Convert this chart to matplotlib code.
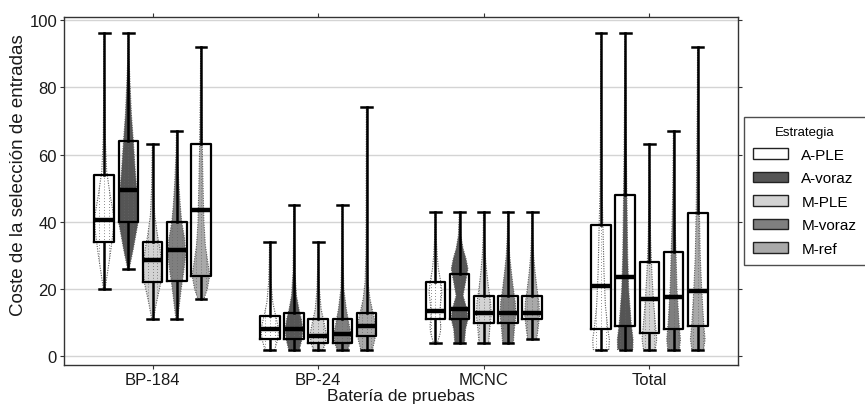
import numpy as np
import matplotlib
matplotlib.use("Agg")
import matplotlib.pyplot as plt
from matplotlib.patches import Patch

plt.rcParams['font.family'] = ['Liberation Sans', 'DejaVu Sans']

groups = ["BP-184", "BP-24", "MCNC", "Total"]
strategies = ["A-PLE", "A-voraz", "M-PLE", "M-voraz", "M-ref"]
colors = ["#ffffff", "#555555", "#d3d3d3", "#7f7f7f", "#a9a9a9"]

# Five-number summaries: one row per test battery, one column per strategy
cost_min = [[20, 26, 11, 11, 17],
            [2, 2, 2, 2, 2],
            [4, 4, 4, 4, 5],
            [2, 2, 2, 2, 2]]
cost_q1 = [[34, 40, 22, 22.5, 24],
           [5, 5, 4, 4, 6],
           [11, 11, 10, 10, 11],
           [8, 9, 7, 8, 9]]
cost_med = [[40.5, 49.5, 28.5, 31.5, 43.5],
            [8, 8, 6, 6.5, 9],
            [13.5, 14, 13, 13, 13],
            [21, 23.5, 17, 17.5, 19.5]]
cost_q3 = [[54, 64, 34, 40, 63],
           [12, 13, 11, 11, 13],
           [22, 24.5, 18, 18, 18],
           [39, 48, 28, 31, 42.5]]
cost_max = [[96, 96, 63, 67, 92],
            [34, 45, 34, 45, 74],
            [43, 43, 43, 43, 43],
            [96, 96, 63, 67, 92]]

# Violin outlines: cost levels and relative half-widths (1 = box half-width)
bp184_levels = [[20, 30, 38, 42, 48, 55, 65, 80, 96],
                [26, 32, 40, 46, 55, 64, 72, 80, 88, 96],
                [11, 16, 22, 27, 32, 36, 42, 50, 63],
                [11, 15, 20, 25, 30, 35, 40, 45, 52, 60, 67],
                [17, 20, 24, 28, 33, 40, 50, 60, 70, 80, 92]]
bp184_widths = [[0.08, 0.6, 0.95, 0.95, 0.6, 0.25, 0.1, 0.05, 0.03],
                [0.08, 0.5, 1.0, 0.95, 0.7, 0.5, 0.3, 0.18, 0.07, 0.03],
                [0.08, 0.4, 0.85, 0.95, 0.75, 0.5, 0.22, 0.1, 0.03],
                [0.08, 0.25, 0.45, 0.7, 0.9, 0.8, 0.5, 0.35, 0.2, 0.08, 0.03],
                [0.3, 0.65, 0.9, 0.7, 0.45, 0.3, 0.22, 0.15, 0.1, 0.06, 0.03]]

bp24_levels = [[2, 5, 8, 12, 16, 22, 28, 34],
               [2, 5, 8, 11, 14, 18, 25, 35, 45],
               [2, 4, 7, 10, 14, 20, 27, 34],
               [2, 4, 7, 10, 14, 20, 30, 45],
               [2, 5, 9, 13, 17, 22, 30, 50, 74]]
bp24_widths = [[0.5, 0.8, 0.9, 0.6, 0.3, 0.12, 0.06, 0.03],
               [0.55, 0.8, 0.9, 0.75, 0.5, 0.25, 0.1, 0.05, 0.03],
               [0.5, 0.75, 0.8, 0.6, 0.3, 0.12, 0.05, 0.03],
               [0.55, 0.8, 0.85, 0.65, 0.4, 0.15, 0.06, 0.03],
               [0.6, 0.85, 0.95, 0.65, 0.35, 0.15, 0.07, 0.04, 0.02]]

mcnc_levels = [[4, 7, 9, 12, 15, 19, 22, 26, 30, 35, 43],
               [4, 8, 11, 14, 18, 22, 26, 29, 32, 36, 43],
               [4, 8, 12, 16, 20, 25, 30, 36, 43],
               [4, 8, 12, 16, 20, 25, 30, 36, 43],
               [5, 8, 12, 16, 20, 25, 30, 36, 43]]
mcnc_widths = [[0.2, 0.5, 0.55, 0.45, 0.5, 0.65, 0.55, 0.3, 0.18, 0.08, 0.03],
               [0.5, 0.6, 0.85, 0.75, 0.35, 0.6, 0.85, 0.65, 0.35, 0.12, 0.03],
               [0.5, 0.6, 0.75, 0.7, 0.5, 0.3, 0.15, 0.06, 0.03],
               [0.55, 0.65, 0.8, 0.75, 0.55, 0.35, 0.17, 0.07, 0.03],
               [0.45, 0.6, 0.75, 0.7, 0.5, 0.3, 0.15, 0.06, 0.03]]

total_levels = [[2, 5, 8, 15, 25, 38, 50, 70, 96],
                [2, 5, 10, 20, 30, 45, 60, 80, 96],
                [2, 5, 10, 17, 25, 35, 45, 63],
                [2, 5, 10, 20, 30, 40, 50, 67],
                [2, 5, 10, 20, 30, 45, 60, 75, 92]]
total_widths = [[0.8, 0.85, 0.7, 0.45, 0.3, 0.2, 0.1, 0.05, 0.02],
                [0.78, 0.8, 0.6, 0.35, 0.25, 0.18, 0.12, 0.06, 0.02],
                [0.6, 0.75, 0.6, 0.4, 0.25, 0.12, 0.06, 0.02],
                [0.6, 0.7, 0.55, 0.35, 0.25, 0.15, 0.08, 0.02],
                [0.6, 0.75, 0.6, 0.4, 0.25, 0.15, 0.1, 0.05, 0.02]]

violin_levels = [bp184_levels, bp24_levels, mcnc_levels, total_levels]
violin_widths = [bp184_widths, bp24_widths, mcnc_widths, total_widths]

W, H = 865, 406
fig = plt.figure(figsize=(W / 100, H / 100), dpi=100)
ax = fig.add_axes([64 / W, 40 / H, 674 / W, 348 / H])

slot = 0.146
box_w = 0.118
half = box_w / 2
offsets = (np.arange(len(strategies)) - 2) * slot

for gi in range(len(groups)):
    for si in range(len(strategies)):
        xc = gi + offsets[si]
        ys = np.asarray(violin_levels[gi][si], float)
        ws = np.asarray(violin_widths[gi][si], float) * half
        poly = ax.fill_betweenx(ys, xc - ws, xc + ws, facecolor=colors[si],
                                edgecolor="#5a5a5a", linestyle=(0, (1, 1.2)),
                                linewidth=0.8, zorder=2)
        clip = poly.get_paths()[0]
        for k in (-0.5, 0.0, 0.5):
            ln, = ax.plot([xc + k * half, xc + k * half], [ys[0], ys[-1]],
                          linestyle=(0, (1, 2.5)), color="#666666",
                          linewidth=0.6, zorder=2.1)
            ln.set_clip_path(clip, ax.transData)

stats, positions = [], []
for gi in range(len(groups)):
    for si in range(len(strategies)):
        stats.append(dict(whislo=cost_min[gi][si], q1=cost_q1[gi][si],
                          med=cost_med[gi][si], q3=cost_q3[gi][si],
                          whishi=cost_max[gi][si], fliers=[]))
        positions.append(gi + offsets[si])

ax.bxp(stats, positions=positions, widths=box_w, capwidths=0.065,
       showfliers=False, manage_ticks=False, zorder=3,
       boxprops=dict(color="black", linewidth=1.6),
       whiskerprops=dict(color="black", linewidth=1.8),
       capprops=dict(color="black", linewidth=1.8),
       medianprops=dict(color="black", linewidth=3.2, solid_capstyle="butt"))

ax.set_xlim(-0.535, 3.535)
ax.set_ylim(-2.6, 100.9)
ax.set_xticks(range(len(groups)))
ax.set_xticklabels(groups)
ax.set_yticks(np.arange(0, 101, 20))
ax.yaxis.grid(True, color="#d4d4d4", linewidth=1.0, zorder=0)
ax.set_axisbelow(True)
ax.tick_params(which="both", direction="out", length=3, width=0.8,
               top=True, right=True, colors="#333333", labelsize=12,
               labelcolor="#1a1a1a", pad=2)
for sp in ax.spines.values():
    sp.set_color("#333333")
    sp.set_linewidth(1.0)

ax.set_xlabel("Batería de pruebas", fontsize=12.5, color="#1a1a1a", labelpad=1)
ax.set_ylabel("Coste de la selección de entradas", fontsize=13.5,
              color="#1a1a1a")
ax.yaxis.set_label_coords(-0.055, 0.548)

handles = [Patch(facecolor=c, edgecolor="#222222", linewidth=1.0) for c in colors]
leg = ax.legend(handles, strategies, title="Estrategia", loc="center left",
                bbox_to_anchor=(1.009, 0.5), borderaxespad=0,
                fontsize=11, title_fontsize=9.5,
                frameon=True, fancybox=False, edgecolor="#222222",
                handlelength=2.3, handleheight=0.7, handletextpad=0.85,
                labelspacing=0.62, borderpad=0.6)
leg.get_frame().set_linewidth(1.0)

fig.savefig("out.png", dpi=100)
